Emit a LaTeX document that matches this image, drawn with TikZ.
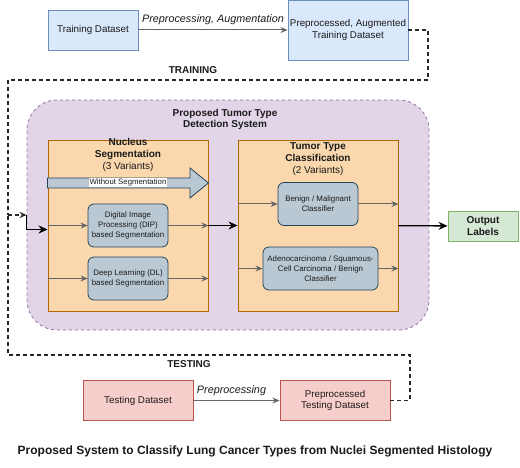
\documentclass[tikz,border=0pt]{standalone}
\usepackage{fontspec}
\setmainfont{Liberation Sans}
\usepackage{xcolor}
\usepackage{tikz}
\usetikzlibrary{positioning,arrows.meta}
\definecolor{blueFill}{HTML}{DAE8FC}
\definecolor{blueLine}{HTML}{6C8EBF}
\definecolor{redFill}{HTML}{F8CECC}
\definecolor{redLine}{HTML}{B85450}
\definecolor{purpleFill}{HTML}{E1D5E7}
\definecolor{purpleLine}{HTML}{9673A6}
\definecolor{orangeFill}{HTML}{FAD7AC}
\definecolor{orangeLine}{HTML}{B46504}
\definecolor{slateFill}{HTML}{BAC8D3}
\definecolor{slateLine}{HTML}{23445D}
\definecolor{greenFill}{HTML}{D5E8D4}
\definecolor{greenLine}{HTML}{82B366}
\definecolor{flowGray}{HTML}{666666}
\definecolor{textDark}{HTML}{1A1A1A}

\begin{document}
\begin{tikzpicture}[
  x=1pt, y=-1pt,
  every node/.style={font=\fontsize{9.8}{11.7}\selectfont, text=textDark},
  dataset/.style={rectangle, draw, line width=0.9pt, align=center, inner sep=1pt, minimum width=110pt, minimum height=40pt},
  stage/.style={rectangle, draw=orangeLine, fill=orangeFill, line width=0.9pt, minimum width=160pt, minimum height=171pt},
  method/.style={rectangle, rounded corners=6pt, draw=slateLine, fill=slateFill, line width=0.8pt, align=center, inner sep=1pt, font=\fontsize{7.9}{10}\selectfont, minimum width=80pt, minimum height=43pt},
  heading/.style={align=center, font=\fontsize{10}{11.7}\selectfont\bfseries},
  flow/.style={-{Stealth[length=7pt,width=6pt]}, flowGray, line width=1pt},
  mainflow/.style={-{Stealth[length=9pt,width=8pt]}, black, line width=1.3pt},
  loop/.style={black!85, line width=1.2pt, dash pattern=on 4pt off 3pt}
]
\useasboundingbox (0,0) rectangle (520,468);

\node[dataset, fill=blueFill, draw=blueLine, minimum width=90pt] (train) at (93,30) {Training Dataset};
\node[dataset, fill=blueFill, draw=blueLine, minimum width=120pt, minimum height=60pt] (trainpre) at (348,30) {Preprocessed, Augmented\\Training Dataset};
\draw[flow] (train) -- node[above=1pt, font=\fontsize{10.8}{12}\selectfont\itshape] {Preprocessing, Augmentation} (trainpre);

\node[font=\fontsize{10}{11.5}\selectfont\bfseries] (trainlbl) at (193,70) {TRAINING};

\node[rectangle, rounded corners=30pt, dashed, draw=purpleLine, fill=purpleFill, line width=0.8pt, minimum width=402pt, minimum height=230pt] (system) at (228,215) {};
\node[heading] (systitle) at (225,119.5) {Proposed Tumor Type\\Detection System};

\node[stage] (nucleus) at (128,225.5) {};
\node[heading] (nuctitle) at (128,155) {Nucleus\\Segmentation\\\mdseries(3 Variants)};
\fill[slateFill, draw=slateLine, line width=0.8pt] (nucleus.west |- 0,178) -- (190,178) -- (190,168) -- (nucleus.east |- 0,183) -- (190,198) -- (190,188) -- (nucleus.west |- 0,188) -- cycle;
\node[fill=white, inner sep=0.4pt, font=\fontsize{7.8}{8}\selectfont] (nowseg) at (128,182.5) {Without Segmentation};
\node[method] (dip) at (128,225.5) {Digital Image\\Processing (DIP)\\based Segmentation};
\node[method] (dl) at (128,278.5) {Deep Learning (DL)\\based Segmentation};
\draw[flow] (nucleus.west |- dip) -- (dip);
\draw[flow] (dip) -- (nucleus.east |- dip);
\draw[flow] (nucleus.west |- dl) -- (dl);
\draw[flow] (dl) -- (nucleus.east |- dl);

\node[stage] (tumor) at (318,225.5) {};
\node[heading] (tumtitle) at (318,159) {Tumor Type\\Classification\\\mdseries(2 Variants)};
\node[method] (benign) at (318,204) {Benign / Malignant\\Classifier};
\node[method, minimum width=115pt] (adeno) at (320.5,268.5) {Adenocarcinoma / Squamous-\\Cell Carcinoma / Benign\\Classifier};
\draw[flow] (tumor.west |- benign) -- (benign);
\draw[flow] (benign) -- (tumor.east |- benign);
\draw[flow] (tumor.west |- adeno) -- (adeno);
\draw[flow] (adeno) -- (tumor.east |- adeno);

\node[rectangle, draw=greenLine, fill=greenFill, line width=0.9pt, minimum width=70pt, minimum height=30pt, align=center, font=\fontsize{10}{11.7}\selectfont\bfseries] (output) at (483,226) {Output\\Labels};
\draw[mainflow] (nucleus) -- (tumor);
\draw[mainflow] (tumor) -- (output);

\node[font=\fontsize{10}{11.5}\selectfont\bfseries] (testlbl) at (189,364) {TESTING};
\node[dataset, fill=redFill, draw=redLine] (test) at (138,400.5) {Testing Dataset};
\node[dataset, fill=redFill, draw=redLine] (testpre) at (335,400.5) {Preprocessed\\Testing Dataset};
\draw[flow] (test) -- node[above=1pt, xshift=-5pt, font=\fontsize{10.8}{12}\selectfont\itshape] {Preprocessing} (testpre);

\coordinate (feed) at (8,215);
\draw[loop] (trainpre.east) -| (428,80) -| (feed);
\draw[loop] (testpre.east) -| (410,355) -| (feed);
\draw[loop, -{Stealth[length=7pt,width=6pt]}] (feed) -- (feed -| system.west);
\draw[mainflow] (feed -| system.west) |- ([yshift=-4pt]nucleus.west);

\node[font=\fontsize{12}{14}\selectfont\bfseries] (caption) at (255,451) {Proposed System to Classify Lung Cancer Types from Nuclei Segmented Histology};
\end{tikzpicture}
\end{document}
